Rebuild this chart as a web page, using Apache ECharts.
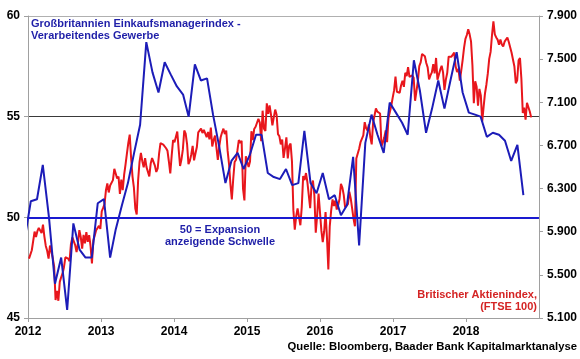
<!DOCTYPE html>
<html><head><meta charset="utf-8">
<script src="https://cdn.jsdelivr.net/npm/echarts@6/dist/echarts.min.js"></script>
<style>html,body{margin:0;padding:0;background:#fff}#c{width:580px;height:359px}</style>
</head><body><div id="c"></div>
<script>
// PMI (monthly, left axis)
const pmiMonths = [
 '2011-12',
 '2012-01','2012-02','2012-03','2012-04','2012-05','2012-06','2012-07','2012-08','2012-09','2012-10','2012-11','2012-12',
 '2013-01','2013-02','2013-03','2013-04','2013-05','2013-06','2013-07','2013-08','2013-09','2013-10','2013-11','2013-12',
 '2014-01','2014-02','2014-03','2014-04','2014-05','2014-06','2014-07','2014-08','2014-09','2014-10','2014-11','2014-12',
 '2015-01','2015-02','2015-03','2015-04','2015-05','2015-06','2015-07','2015-08','2015-09','2015-10','2015-11','2015-12',
 '2016-01','2016-02','2016-03','2016-04','2016-05','2016-06','2016-07','2016-08','2016-09','2016-10','2016-11','2016-12',
 '2017-01','2017-02','2017-03','2017-04','2017-05','2017-06','2017-07','2017-08','2017-09','2017-10','2017-11','2017-12',
 '2018-01','2018-02','2018-03','2018-04','2018-05','2018-06','2018-07','2018-08','2018-09','2018-10'
];
const pmiValues = [
 48.9,
 50.8,50.9,52.6,50.0,46.7,48.0,45.4,49.7,48.4,48.0,48.0,50.7,
 50.9,48.0,49.4,50.6,51.7,53.2,54.6,58.7,57.2,56.2,57.7,57.1,
 56.5,56.1,55.0,57.6,56.8,56.9,55.1,53.5,51.7,52.8,53.2,52.4,
 53.1,54.1,54.1,52.2,52.0,51.9,52.4,51.6,51.7,54.3,51.7,51.2,
 52.2,50.9,51.1,50.1,50.6,53.0,48.6,53.7,55.1,54.1,53.2,55.7,
 55.2,54.7,54.1,57.8,56.3,54.2,55.4,56.8,55.4,56.8,58.2,56.2,
 55.2,55.1,55.0,54.0,54.2,54.1,53.8,52.8,53.6,51.1
];
// FTSE 100 (weekly, Fridays, right axis)
const ftseFirstFriday = '2012-01-06';
const ftse2012 = [5650,5636,5728,5733, 5901,5852,5905,5935, 5911,5887,5965,5855,5768, 5723,5651,5772,5777, 5655,5575,5267,5351, 5260,5435,5478,5513,5571, 5663,5666,5651,5627, 5787,5847,5852,5776,5711, 5794,5915,5852,5742, 5871,5793,5896,5806, 5868,5769,5605,5819,5866, 5914,5921,5954,5926];
const ftse2013 = [6089,6121,6155,6284, 6347,6264,6328,6335, 6378,6483,6489,6393,6412, 6250,6384,6286,6426, 6522,6624,6723,6800,6583, 6411,6308,6116,6060, 6375,6544,6631,6554, 6497,6583,6499,6492,6413, 6532,6583,6596,6513, 6454,6487,6623,6721, 6734,6708,6694,6674,6650, 6551,6440,6606,6750];
const ftse2014 = [6730,6740,6829,6664,6510, 6571,6663,6838,6810, 6713,6527,6557,6616, 6695,6561,6625,6685, 6822,6814,6856,6815,6844, 6858,6777,6825,6757, 6866,6690,6749,6791, 6679,6567,6689,6776,6820, 6855,6806,6837,6649, 6527,6340,6200,6389,6546, 6567,6654,6750,6723, 6742,6300,6190,6600];
const ftse2015 = [6548,6501,6550,6832,6749, 6853,6873,6889,6947, 6912,6740,7022,6855, 6834,7090,6994,7070, 6986,6886,6960,7032,6984, 6805,6785,6710,6754, 6585,6673,6775,6580,6696, 6718,6550,6100,5920, 6042,6117,6105,5960, 6130,6417,6378,6444,6361, 6353,6118,6334,6375, 6238,5890,6052,6254];
const ftse2016 = [6242,5912,5804,5900,6083, 5848,5550,5950,6096, 6199,6139,6189,6106, 6146,6204,6343,6310,6242, 6125,6138,6156,6270, 6209,6116,6021,5950, 6578,6590,6669,6730,6724, 6793,6916,6859,6838, 6895,6777,6710,6910,6899, 7044,7013,7020,6996, 6693,6730,6775,6840, 6730,6954,7011,7068,7143];
const ftse2017 = [7210,7338,7198,7184, 7188,7258,7300,7243, 7374,7343,7425,7336,7323, 7349,7328,7114,7204, 7297,7435,7470,7548, 7548,7527,7464,7424,7313, 7350,7378,7453,7368, 7511,7310,7324,7402, 7438,7377,7215,7310,7373, 7523,7535,7523,7505, 7560,7433,7380,7409, 7300,7394,7490,7604,7688];
const ftse2018 = [7724,7778,7730,7665, 7443,7092,7294,7244, 7069,7224,7164,6922,7057, 7184,7265,7368,7502, 7567,7724,7850,7730, 7701,7681,7633,7682,7637, 7617,7662,7679,7701, 7659,7667,7559,7577,7432, 7277,7304,7490,7510, 7318,7000,7050,6940, 7094,7105,7014,6960];

const yearLabels = ['2012','2013','2014','2015','2016','2017','2018'];
const leftTicks = [45, 50, 55, 60];
const rightTicks = [5100, 5500, 5900, 6300, 6700, 7100, 7500, 7900];
const thresholdValue = 50;

const titleText = 'Großbritannien Einkaufsmanagerindex -\nVerarbeitendes Gewerbe';
const thresholdText = '50 = Expansion\nanzeigende Schwelle';
const ftseText = 'Britischer Aktienindex,\n(FTSE 100)';
const sourceText = 'Quelle: Bloomberg, Baader Bank Kapitalmarktanalyse';

// build series data
function parseYM(s, day) { const p = s.split('-'); return new Date(+p[0], +p[1]-1, day).getTime(); }
const pmiData = pmiMonths.map((m, i) => [parseYM(m, 15), pmiValues[i]]);
const ftseAll = [].concat(ftse2012, ftse2013, ftse2014, ftse2015, ftse2016, ftse2017, ftse2018);
const fp = ftseFirstFriday.split('-');
const ftseData = ftseAll.map((v, i) => [new Date(+fp[0], +fp[1]-1, +fp[2] + 7*i).getTime(), v]);

const FONT = '"Liberation Sans", Arial, sans-serif';
const BLUE = '#1c1cb8';
const RED = '#e8161c';
const AX = '#a0a0a0';

const chart = echarts.init(document.getElementById('c'), null, {renderer: 'canvas'});
chart.setOption({
  animation: false,
  backgroundColor: '#fff',
  grid: {left: 28, right: 39, top: 16, bottom: 41, containLabel: false},
  xAxis: {
    type: 'time',
    min: new Date(2012, 0, 1).getTime(),
    max: new Date(2019, 0, 1).getTime(),
    splitNumber: 7,
    minInterval: 365 * 864e5,
    maxInterval: 366 * 864e5,
    axisLine: {show: true, lineStyle: {color: AX, width: 1}},
    axisTick: {show: true, length: 4, lineStyle: {color: AX}},
    splitLine: {show: false},
    axisLabel: {
      color: '#000', fontWeight: 'bold', fontSize: 12, fontFamily: FONT, margin: 8,
      formatter: function (v) { const y = String(new Date(v).getFullYear()); return yearLabels.indexOf(y) >= 0 ? y : ''; }
    }
  },
  yAxis: [{
    type: 'value', min: leftTicks[0], max: leftTicks[leftTicks.length-1], interval: leftTicks[1]-leftTicks[0],
    position: 'left',
    axisLine: {show: true, lineStyle: {color: AX}},
    axisTick: {show: true, length: 4, lineStyle: {color: AX}},
    axisLabel: {color: '#000', fontWeight: 'bold', fontSize: 12, fontFamily: FONT, margin: 8},
    splitLine: {show: true, lineStyle: {color: [AX, 'rgba(0,0,0,0)', '#3a3a3a', '#b0b0b0'], width: 1}}
  }, {
    type: 'value', min: rightTicks[0], max: rightTicks[rightTicks.length-1], interval: rightTicks[1]-rightTicks[0],
    position: 'right',
    axisLine: {show: true, lineStyle: {color: AX}},
    axisTick: {show: true, length: 4, lineStyle: {color: AX}},
    axisLabel: {color: '#000', fontWeight: 'bold', fontSize: 12, fontFamily: FONT, margin: 8,
      formatter: function (v) { return String(v).replace(/\B(?=(\d{3})+(?!\d))/g, '.'); }},
    splitLine: {show: false}
  }],
  series: [{
    name: 'FTSE 100', type: 'line', yAxisIndex: 1, data: ftseData,
    showSymbol: false, symbol: 'none', clip: true,
    lineStyle: {color: RED, width: 2}, itemStyle: {color: RED}, z: 2
  }, {
    name: 'PMI', type: 'line', yAxisIndex: 0, data: pmiData,
    showSymbol: false, symbol: 'none', clip: true,
    lineStyle: {color: BLUE, width: 2}, itemStyle: {color: BLUE}, z: 3,
    markLine: {
      silent: true, symbol: 'none', label: {show: false},
      lineStyle: {color: '#1a1ad0', width: 2, type: 'solid'},
      data: [{yAxis: thresholdValue}]
    }
  }],
  graphic: [
    {type: 'text', x: 31, y: 18, z: 10, style: {text: titleText, font: 'bold 11px ' + FONT, fill: '#1f1fa8', lineHeight: 12}},
    {type: 'text', x: 220, y: 224, z: 10, style: {text: thresholdText, font: 'bold 11px ' + FONT, fill: '#1f1fa8', lineHeight: 12, align: 'center'}},
    {type: 'text', x: 537, y: 289, z: 10, style: {text: ftseText, font: 'bold 11px ' + FONT, fill: '#d42424', lineHeight: 12, align: 'right'}},
    {type: 'text', x: 577, y: 341, z: 10, style: {text: sourceText, font: 'bold 11.3px ' + FONT, fill: '#000', align: 'right'}}
  ]
});
</script>
</body></html>
